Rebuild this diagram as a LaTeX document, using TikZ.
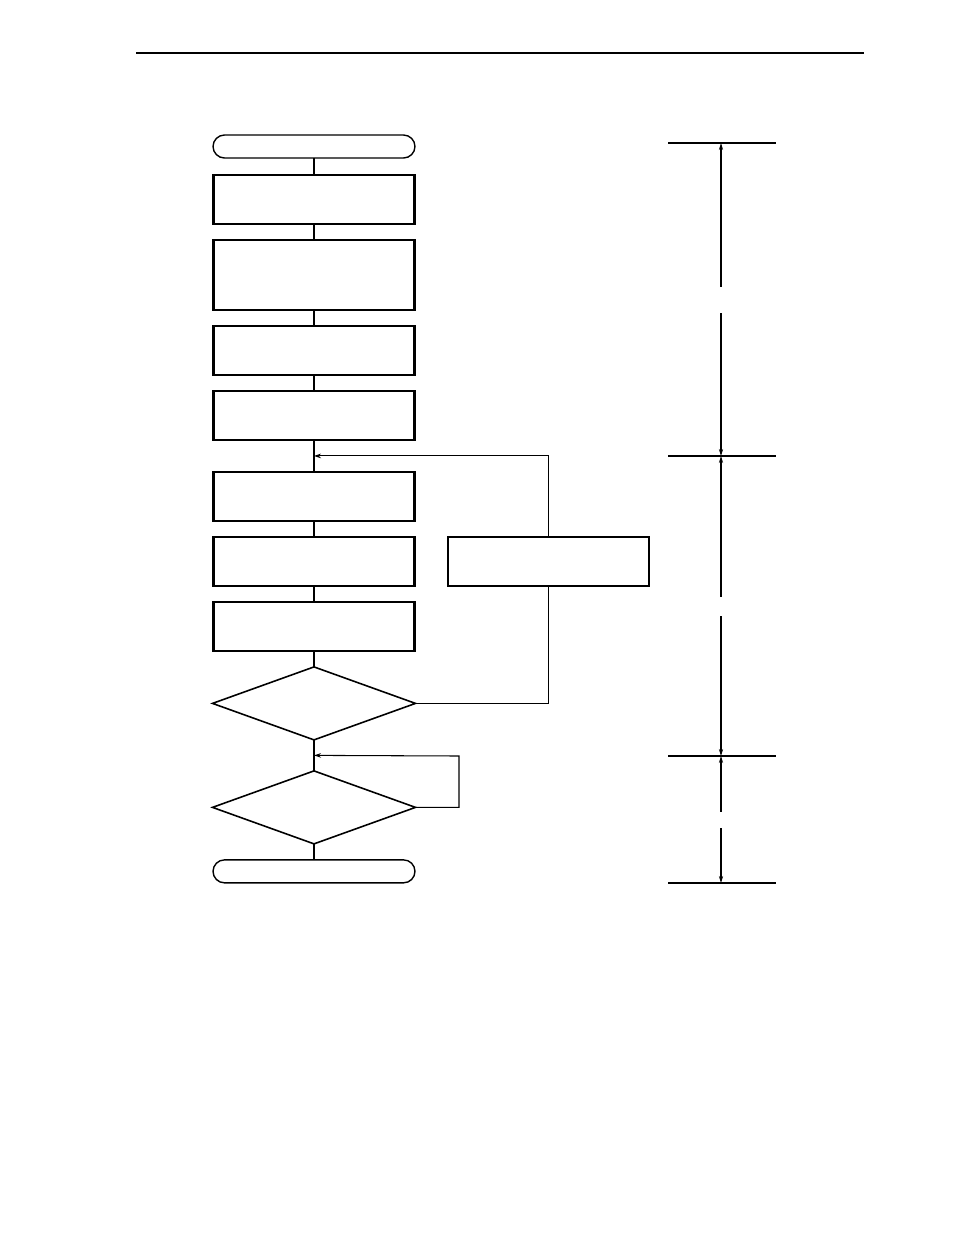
\documentclass[tikz,border=0pt]{standalone}
\usepackage{tikz}
\usetikzlibrary{arrows.meta, positioning, shapes.geometric, calc}

\begin{document}
\begin{tikzpicture}[
    x=0.02cm, y=-0.02cm,
    node distance=0.32cm,
    box/.style={rectangle, draw=black, line width=1.2pt, minimum width=4.02cm, minimum height=0.98cm, outer sep=0pt, inner sep=0pt},
    tall/.style={box, minimum height=1.4cm},
    term/.style={rectangle, rounded corners=0.23cm, draw=black, line width=0.8pt, minimum width=4.04cm, minimum height=0.46cm, outer sep=0pt, inner sep=0pt},
    test/.style={diamond, draw=black, line width=0.9pt, minimum width=4.06cm, minimum height=1.46cm, outer sep=0pt, inner sep=0pt},
    link/.style={line width=0.6pt},
    arrow/.style={-{Stealth[length=4pt, width=2.6pt]}, line width=0.6pt},
    dim/.style={{Stealth[length=4pt, width=2.4pt]}-, line width=0.6pt},
    tick/.style={line width=1.2pt},
    thintick/.style={line width=0.6pt}
]
\useasboundingbox (0,0) rectangle (954,1235);

% page rule
\draw[line width=0.7pt] (136,53) -- (864,53);

% main flow
\node[term] (start) at (314,146.5) {};
\node[box, below=0.34cm of start] (init) {};
\node[tall, below=of init] (setup) {};
\node[box, below=of setup] (conf) {};
\node[box, below=of conf] (enable) {};
\node[box, below=0.64cm of enable] (load) {};
\node[box, below=of load] (send) {};
\node[box, below=of send] (wait) {};
\node[test, below=of wait] (check) {};
\node[test, below=0.62cm of check] (done) {};
\node[term, below=of done] (stop) {};

\node[box, minimum width=4.02cm] (next) at (548.5,561.5) {};

\draw[link] (start) -- (init);
\draw[link] (init) -- (setup);
\draw[link] (setup) -- (conf);
\draw[link] (conf) -- (enable);
\draw[link] (enable) -- (load);
\draw[link] (load) -- (send);
\draw[link] (send) -- (wait);
\draw[link] (wait) -- (check);
\draw[link] (check) -- (done);
\draw[link] (done) -- (stop);

% loops
\coordinate (j1) at ($(enable.south)!0.5!(load.north)$);
\coordinate (j2) at ($(check.south)!0.5!(done.north)$);
\draw[link] (check.east) -| (next.south);
\draw[arrow] (next.north) |- (j1);
\draw[arrow] (done.east) -| (459,756) -- (j2);

% timing marks
\coordinate (m1) at (721,143);
\coordinate (m2) at (721,456);
\coordinate (m3) at (721,756);
\coordinate (m4) at (721,883);
\draw[tick] (668,143) -- (776,143);
\draw[thintick] (668,456) -- (776,456);
\draw[tick] (668,756) -- (776,756);
\draw[tick] (668,883) -- (776,883);

\draw[dim] (m1) -- (721,287);
\draw[dim] (m2) -- (721,313);
\draw[dim] (m2) -- (721,597);
\draw[dim] (m3) -- (721,616);
\draw[dim] (m3) -- (721,812);
\draw[dim] (m4) -- (721,828);

\end{tikzpicture}
\end{document}
